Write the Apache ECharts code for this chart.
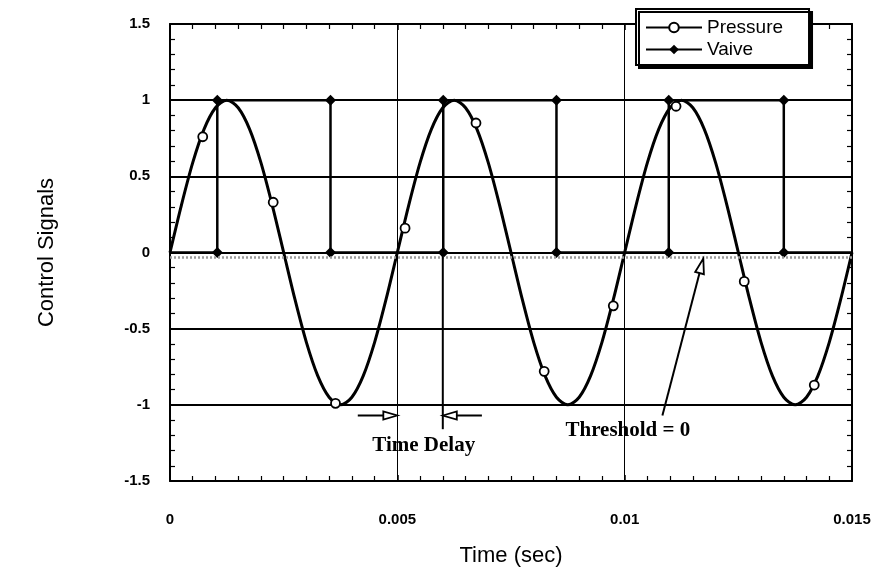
<!DOCTYPE html>
<html lang="en">
<head>
    <meta charset="utf-8"/>
    <title>Control Signals</title>
    <script src="https://cdn.jsdelivr.net/npm/echarts@6/dist/echarts.min.js"></script>
    <style>
        html, body { margin: 0; padding: 0; background: #fff; }
        #main { width: 880px; height: 572px; }
    </style>
</head>
<body>
<div id="main"></div>
<script>
    // pressure curve, every 0.00025 s
    var pressT = [
        0, 0.00025, 0.0005, 0.00075, 0.001, 0.00125, 0.0015, 0.00175, 0.002, 0.00225,
        0.0025, 0.00275, 0.003, 0.00325, 0.0035, 0.00375, 0.004, 0.00425, 0.0045, 0.00475,
        0.005, 0.00525, 0.0055, 0.00575, 0.006, 0.00625, 0.0065, 0.00675, 0.007, 0.00725,
        0.0075, 0.00775, 0.008, 0.00825, 0.0085, 0.00875, 0.009, 0.00925, 0.0095, 0.00975,
        0.01, 0.01025, 0.0105, 0.01075, 0.011, 0.01125, 0.0115, 0.01175, 0.012, 0.01225,
        0.0125, 0.01275, 0.013, 0.01325, 0.0135, 0.01375, 0.014, 0.01425, 0.0145, 0.01475,
        0.015
    ];
    var pressV = [
        0, 0.31, 0.59, 0.81, 0.95, 1.0, 0.95, 0.81, 0.59, 0.31,
        0, -0.31, -0.59, -0.81, -0.95, -1.0, -0.95, -0.81, -0.59, -0.31,
        0, 0.31, 0.59, 0.81, 0.95, 1.0, 0.95, 0.81, 0.59, 0.31,
        0, -0.31, -0.59, -0.81, -0.95, -1.0, -0.95, -0.81, -0.59, -0.31,
        0, 0.31, 0.59, 0.81, 0.95, 1.0, 0.95, 0.81, 0.59, 0.31,
        0, -0.31, -0.59, -0.81, -0.95, -1.0, -0.95, -0.81, -0.59, -0.31,
        0
    ];
    // sampled pressure points (circles)
    var markT = [0.00072, 0.00227, 0.00364, 0.00517, 0.00673, 0.00823, 0.00975, 0.01113, 0.01263, 0.01417];
    var markV = [0.76, 0.33, -0.99, 0.16, 0.85, -0.78, -0.35, 0.96, -0.19, -0.87];
    // valve switching times, the valve toggles 0/1 at each
    var valveT = [0.00104, 0.00353, 0.00601, 0.0085, 0.01097, 0.0135];
    var threshold = 0;

    var xTicks = [0, 0.005, 0.01, 0.015];
    var yTicks = [-1.5, -1, -0.5, 0, 0.5, 1, 1.5];

    var pressData = pressT.map(function (t, i) { return [t, pressV[i]]; });
    var markData = markT.map(function (t, i) { return [t, markV[i]]; });

    var valveData = [{value: [0, 0], symbol: 'none'}];
    valveT.forEach(function (t, i) {
        if (i % 2 === 0) {
            valveData.push([t, 0], [t, 1]);
        } else {
            valveData.push([t, 1], [t, 0]);
        }
    });
    valveData.push({value: [xTicks[xTicks.length - 1], 0], symbol: 'none'});

    var sans = 'Liberation Sans, Arial, sans-serif';
    var serif = 'Liberation Serif, Times New Roman, serif';

    function xAxisCfg(pos, labels) {
        return {
            type: 'value',
            position: pos,
            min: xTicks[0],
            max: xTicks[xTicks.length - 1],
            interval: 0.005,
            axisLine: {show: true, onZero: false, lineStyle: {color: '#000', width: 2}},
            axisTick: {show: true, inside: true, length: 6, lineStyle: {color: '#000', width: 1.5}},
            minorTick: {show: true, splitNumber: 10, length: 5, lineStyle: {color: '#000', width: 1.2}},
            splitLine: {show: labels, lineStyle: {color: '#000', width: 1}},
            axisLabel: {
                show: labels, margin: 31, color: '#000', fontSize: 15, fontWeight: 'bold', fontFamily: sans,
                formatter: function (v) { return String(+v.toFixed(3)); }
            },
            name: labels ? 'Time (sec)' : '',
            nameLocation: 'middle',
            nameGap: 64,
            nameTextStyle: {color: '#000', fontSize: 22, fontFamily: sans}
        };
    }

    function yAxisCfg(pos, labels) {
        return {
            type: 'value',
            position: pos,
            min: yTicks[0],
            max: yTicks[yTicks.length - 1],
            interval: 0.5,
            axisLine: {show: true, onZero: false, lineStyle: {color: '#000', width: 2}},
            axisTick: {show: true, inside: true, length: 6, lineStyle: {color: '#000', width: 1.5}},
            minorTick: {show: true, splitNumber: 5, length: 5, lineStyle: {color: '#000', width: 1.2}},
            splitLine: {show: labels, lineStyle: {color: '#000', width: 2}},
            axisLabel: {
                show: labels, margin: 20, color: '#000', fontSize: 15, fontWeight: 'bold', fontFamily: sans,
                formatter: function (v) { return String(+v.toFixed(1)); }
            },
            name: labels ? 'Control Signals' : '',
            nameLocation: 'middle',
            nameGap: 112,
            nameTextStyle: {color: '#000', fontSize: 22, fontFamily: sans}
        };
    }

    var chart = echarts.init(document.getElementById('main'));
    var option = {
        animation: false,
        backgroundColor: '#fff',
        grid: {left: 170, right: 28, top: 24, bottom: 89},
        xAxis: [xAxisCfg('bottom', true), xAxisCfg('top', false)],
        yAxis: [yAxisCfg('left', true), yAxisCfg('right', false)],
        legend: {
            data: ['Pressure', 'Vaive'],
            orient: 'vertical',
            left: 636,
            top: 9,
            padding: [9, 26, 6, 9],
            itemGap: 3,
            itemWidth: 56,
            itemHeight: 12,
            backgroundColor: '#fff',
            borderColor: '#000',
            borderWidth: 2,
            borderRadius: 0,
            shadowColor: '#000',
            shadowOffsetX: 3,
            shadowOffsetY: 3,
            shadowBlur: 0,
            textStyle: {color: '#000', fontSize: 19, fontFamily: sans, padding: [0, 0, 0, 0]}
        },
        series: [
            {
                name: 'Pressure',
                type: 'line',
                data: pressData,
                smooth: 0.3,
                showSymbol: false,
                symbol: 'emptyCircle',
                symbolSize: 7,
                lineStyle: {color: '#000', width: 3},
                itemStyle: {color: '#000', borderColor: '#000', borderWidth: 1.5},
                z: 4
            },
            {
                name: 'Pressure points',
                type: 'scatter',
                data: markData,
                symbol: 'circle',
                symbolSize: 9,
                itemStyle: {color: '#fff', borderColor: '#000', borderWidth: 1.8, opacity: 1},
                z: 5
            },
            {
                name: 'Vaive',
                type: 'line',
                data: valveData,
                symbol: 'diamond',
                symbolSize: 11,
                lineStyle: {color: '#000', width: 2.5},
                itemStyle: {color: '#000'},
                markLine: {
                    silent: true,
                    symbol: 'none',
                    label: {show: false},
                    lineStyle: {color: '#9a9a9a', width: 2.5, type: [2, 2]},
                    data: [{yAxis: threshold - 0.03}]
                },
                z: 3
            }
        ]
    };
    chart.setOption(option);

    // annotations placed at data coordinates
    function px(t, v) { return chart.convertToPixel({xAxisIndex: 0, yAxisIndex: 0}, [t, v]); }

    function arrow(from, tip, len, half) {
        var dx = tip[0] - from[0], dy = tip[1] - from[1];
        var d = Math.sqrt(dx * dx + dy * dy);
        var ux = dx / d, uy = dy / d;
        var bx = tip[0] - ux * len, by = tip[1] - uy * len;
        return [
            {type: 'line', shape: {x1: from[0], y1: from[1], x2: bx, y2: by},
                style: {stroke: '#000', lineWidth: 2}, z: 20},
            {type: 'polygon', shape: {points: [tip, [bx - uy * half, by + ux * half], [bx + uy * half, by - ux * half]]},
                style: {fill: '#fff', stroke: '#000', lineWidth: 1.8}, z: 20}
        ];
    }

    var g = [];
    g = g.concat(arrow(px(0.00413, -1.07), px(0.005, -1.07), 14, 4));
    g = g.concat(arrow(px(0.00686, -1.07), px(0.006, -1.07), 14, 4));
    var a = px(0.006, 0), b = px(0.006, -1.16);
    g.push({type: 'line', shape: {x1: a[0], y1: a[1], x2: b[0], y2: b[1]},
        style: {stroke: '#000', lineWidth: 2}, z: 20});
    g = g.concat(arrow(px(0.01083, -1.07), px(0.01173, -0.04), 15, 4.5));

    var td = px(0.00558, -1.27);
    g.push({type: 'text', x: td[0], y: td[1], z: 21,
        style: {text: 'Time Delay', fill: '#000', font: 'bold 21px ' + serif, align: 'center', verticalAlign: 'middle'}});
    var th = px(0.01007, -1.17);
    g.push({type: 'text', x: th[0], y: th[1], z: 21,
        style: {text: 'Threshold = 0', fill: '#000', font: 'bold 21px ' + serif, align: 'center', verticalAlign: 'middle'}});

    chart.setOption({graphic: g});
</script>
</body>
</html>
